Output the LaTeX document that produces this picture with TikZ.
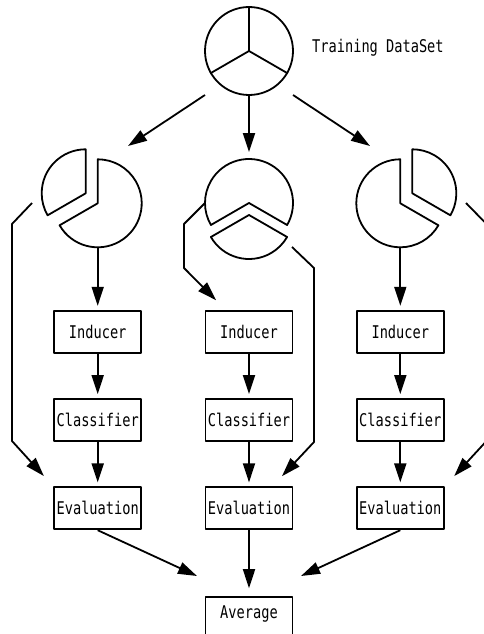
\documentclass[tikz,border=0pt]{standalone}
\usepackage{fontspec}
\usetikzlibrary{arrows.meta,positioning}

\newfontfamily\boxfont[FakeStretch=0.78]{DejaVu Sans Mono}

\begin{document}
\begin{tikzpicture}[
  x=1pt, y=1pt,
  line join=round,
  monotext/.style={font=\boxfont\fontsize{17.5}{20}\selectfont},
  wire/.style={line width=1.8pt},
  flow/.style={wire, -{Triangle[length=19pt, width=12pt]}},
  piece/.style={line width=1.8pt},
  box/.style={draw, monotext, line width=1.8pt, inner sep=0pt,
              minimum width=87pt, minimum height=42pt},
  node distance=44.5pt,
]
\useasboundingbox (0,0) rectangle (484,-634);
\clip (0,0) rectangle (484,-634);

% ── the whole data set, cut in three ──────────────────────────────────────
\node[circle, draw, piece, minimum size=88pt, inner sep=0pt] (set) at (249,-51) {};
\draw[piece] (set.center) -- (set.north);
\draw[piece] (set.center) -- (set.210);
\draw[piece] (set.center) -- (set.330);
\node[monotext, anchor=base west, inner sep=0pt] (title) at (312,-52.3) {Training DataSet};

% ── the three folds: one part pulled out of each ──────────────────────────
\coordinate (lpie) at (97.7,-203.3);
\coordinate (mpie) at (249,-203);
\coordinate (rpie) at (400.3,-203.3);

\begin{scope}[shift={(lpie)}]
  \draw[piece] (0,0) -- (210:44) arc[start angle=210, end angle=450, radius=44] -- cycle;
  \draw[piece, shift={(-12,10)}] (0,0) -- (90:44) arc[start angle=90, end angle=210, radius=44] -- cycle;
\end{scope}

\begin{scope}[shift={(mpie)}]
  \draw[piece] (0,0) -- (-30:44) arc[start angle=-30, end angle=210, radius=44] -- cycle;
  \draw[piece, shift={(0,-12)}] (0,0) -- (210:44) arc[start angle=210, end angle=330, radius=44] -- cycle;
\end{scope}

\begin{scope}[shift={(rpie)}]
  \draw[piece] (0,0) -- (90:44) arc[start angle=90, end angle=330, radius=44] -- cycle;
  \draw[piece, shift={(12,10)}] (0,0) -- (-30:44) arc[start angle=-30, end angle=90, radius=44] -- cycle;
\end{scope}

% ── one column of boxes per fold ──────────────────────────────────────────
\foreach \c/\x in {l/97.7, m/249, r/400.3} {
  \node[box] (ind\c) at (\x,-331.7) {Inducer};
  \node[box, below=of ind\c] (cls\c) {Classifier};
  \node[box, below=of cls\c] (eval\c) {Evaluation};
  \draw[flow, shorten >=4pt] (ind\c) -- (cls\c);
  \draw[flow, shorten >=4pt] (cls\c) -- (eval\c);
}

% The bottom edge of this one falls off the page.
\node[box, text height=21.6pt, text depth=22pt, below=66pt of evalm] (avg) {Average};

% ── free ends of the connectors ───────────────────────────────────────────
\coordinate (lfrom) at (205,-95);
\coordinate (lto) at (128,-146);
\coordinate (rfrom) at (293,-95);
\coordinate (rto) at (370,-146);
\coordinate (lleave) at (32,-203);
\coordinate (mleave) at (205,-203);
\coordinate (mback) at (292,-247);
\coordinate (rleave) at (466,-203);
\coordinate (minto) at ([xshift=21pt]indm.north west);
\coordinate (mouto) at ([xshift=-21pt]evalm.north east);
\coordinate (avgl) at (197,-576);
\coordinate (avgr) at (301,-576);

% splitting
\draw[flow] (lfrom) -- (lto);
\draw[flow, shorten >=51pt] (set.south) -- (mpie);
\draw[flow] (rfrom) -- (rto);

% training parts into the inducers
\draw[flow, shorten <=44pt, shorten >=4pt] (lpie) -- (indl);
\draw[flow, shorten >=13.5pt] (mleave) -- (184,-224) -- (184,-268) -- (minto);
\draw[flow, shorten <=44pt, shorten >=4pt] (rpie) -- (indr);

% held-out parts into the evaluations
\draw[flow, shorten >=14pt] (lleave) -- (12,-224) -- (12,-441) -- (evall.north west);
\draw[flow, shorten >=14pt] (mback) -- (314,-268) -- (314,-442) -- (mouto);
\draw[flow, shorten >=14pt] (rleave) -- (486.5,-224) -- (486.5,-441) -- (evalr.north east);

% averaging
\draw[flow] (evall.south) -- (avgl);
\draw[flow, shorten >=8pt] (evalm) -- (avg);
\draw[flow] (evalr.south) -- (avgr);

\end{tikzpicture}
\end{document}
